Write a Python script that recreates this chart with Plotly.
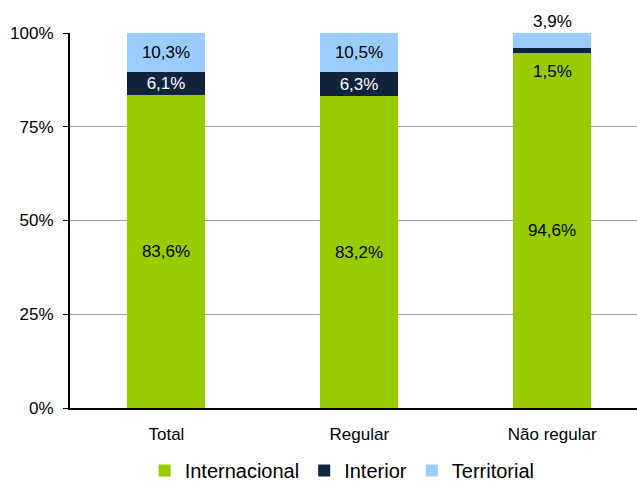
import plotly.graph_objects as go

categories = ["Total", "Regular", "Não regular"]
internacional = [83.6, 83.2, 94.6]
interior = [6.1, 6.3, 1.5]
territorial = [10.3, 10.5, 3.9]
series_names = ["Internacional", "Interior", "Territorial"]
colors = ["#99CC00", "#10243E", "#99CCFF"]

FONT = "Liberation Sans, Arial"

def fmt(v):
    return f"{v:.1f}".replace(".", ",") + "%"

fig = go.Figure()
vals = [internacional, interior, territorial]
font_cols = ["black", "white", "black"]
for i, (name, v) in enumerate(zip(series_names, vals)):
    texts = [fmt(x) for x in v]
    # small segments on the last bar are labelled outside via annotations
    texts = [t if not (j == 2 and i > 0) else "" for j, t in enumerate(texts)]
    fig.add_trace(go.Bar(
        x=categories, y=v, name=name, marker_color=colors[i],
        marker_line_width=0, width=0.404,
        text=texts, textposition="inside", insidetextanchor="middle",
        textangle=0,
        textfont=dict(color=font_cols[i], size=17, family=FONT),
        constraintext="none",
    ))

fig.add_annotation(x=categories[2], y=internacional[2] + interior[2] + territorial[2],
                   text=fmt(territorial[2]), showarrow=False, yanchor="bottom", yshift=0,
                   font=dict(color="black", size=17, family=FONT))
fig.add_annotation(x=categories[2], y=internacional[2], text=fmt(interior[2]),
                   showarrow=False, yanchor="top", yshift=-7,
                   font=dict(color="black", size=17, family=FONT))

fig.update_layout(
    barmode="stack",
    width=637, height=484,
    margin=dict(l=70, r=0, t=33, b=76, autoexpand=False),
    plot_bgcolor="white", paper_bgcolor="white",
    font=dict(family=FONT, size=17, color="black"),
    legend=dict(orientation="h", x=0.48, xanchor="center",
                yref="container", y=0.028, yanchor="middle",
                font=dict(size=20), traceorder="normal", itemwidth=30),
    xaxis=dict(range=[-0.5, 2.44], showline=True, linecolor="black", linewidth=2,
               ticks="", tickfont=dict(size=17), ticklabelstandoff=10,
               automargin=False),
    yaxis=dict(range=[0, 100], tickvals=[0, 25, 50, 75, 100],
               ticktext=["0%", "25%", "50%", "75%", "100%"],
               showgrid=True, gridcolor="#A0A0A0", gridwidth=1,
               showline=True, linecolor="black", linewidth=2,
               ticks="outside", ticklen=5, tickcolor="black",
               tickfont=dict(size=17), zeroline=False, ticklabelstandoff=6,
               automargin=False),
    bargap=0,
)
fig.write_html("out.html")
